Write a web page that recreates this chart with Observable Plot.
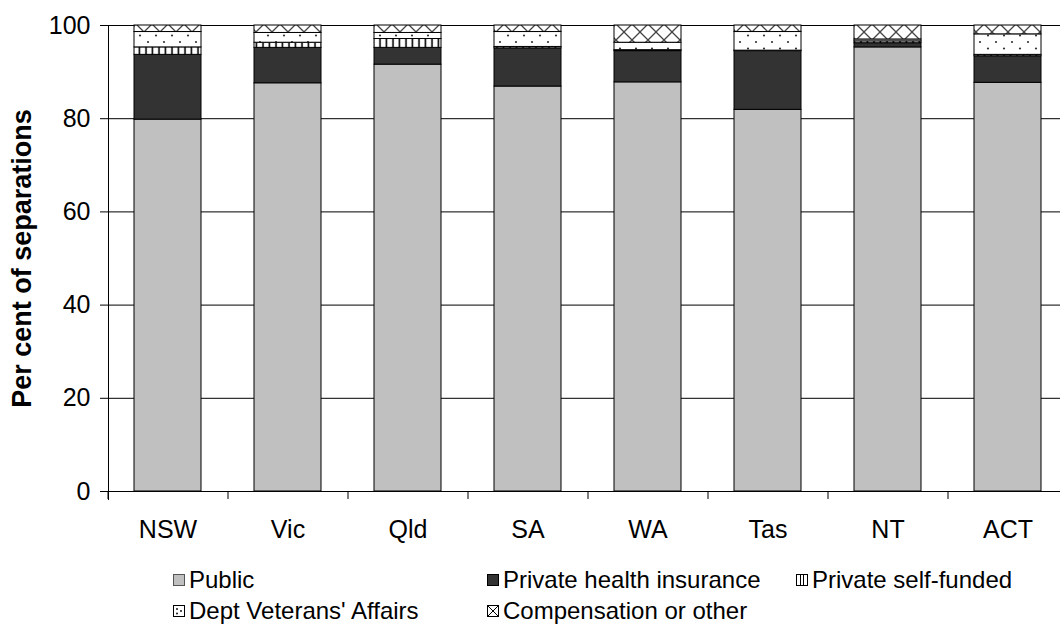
<!DOCTYPE html>
<html>
<head>
<meta charset="utf-8">
<script src="https://cdn.jsdelivr.net/npm/d3@7"></script>
<script src="https://cdn.jsdelivr.net/npm/@observablehq/plot@0.6"></script>
<style>
  html, body { margin: 0; padding: 0; background: #fff; }
  body { width: 1060px; height: 627px; overflow: hidden; font-family: "Liberation Sans", Arial, sans-serif; }
  #chart svg { display: block; overflow: visible; }
  #legend { position: relative; height: 72px; font-size: 24px; color: #000; }
  .item { position: absolute; display: flex; align-items: center; white-space: nowrap; line-height: 1; }
  .item svg { margin-right: 4px; }
</style>
</head>
<body>
<div id="chart"></div>
<div id="legend"></div>
<script>
const categories = ["NSW", "Vic", "Qld", "SA", "WA", "Tas", "NT", "ACT"];
const series = ["Public", "Private health insurance", "Private self-funded", "Dept Veterans' Affairs", "Compensation or other"];
const publicVals = [79.8, 87.6, 91.6, 86.9, 87.8, 81.9, 95.3, 87.7];
const phiVals    = [13.9, 7.6, 3.6, 8.2, 6.7, 12.6, 0.9, 5.7];
const selfVals   = [1.6, 1.1, 1.9, 0.3, 0.2, 0.1, 0.4, 0.3];
const dvaVals    = [3.3, 2.1, 1.3, 3.2, 1.6, 4.0, 0.4, 4.4];
const compVals   = [1.4, 1.6, 1.6, 1.4, 3.7, 1.4, 3.0, 1.9];
const yTicks = [0, 20, 40, 60, 80, 100];
const yTitle = "Per cent of separations";

const seriesValues = [publicVals, phiVals, selfVals, dvaVals, compVals];
const fills = ["#c0c0c0", "#333333", "url(#pSelf)", "url(#pDva)", "url(#pComp)"];

const rows = [];
series.forEach((s, si) => {
  categories.forEach((c, ci) => rows.push({state: c, series: s, value: seriesValues[si][ci]}));
});

const chart = Plot.plot({
  width: 1060,
  height: 555,
  marginLeft: 108,
  marginRight: 0,
  marginTop: 25,
  marginBottom: 64,
  style: {fontFamily: "'Liberation Sans', Arial, sans-serif", background: "#fff", color: "#000"},
  x: {domain: categories, range: [108, 1068], paddingInner: 0.44, paddingOuter: 0.22, label: null},
  y: {domain: [0, 100], label: null},
  color: {domain: series, range: fills},
  marks: [
    Plot.ruleY(yTicks.filter(d => d > 0), {stroke: "#000", strokeWidth: 1}),
    Plot.barY(rows, {x: "state", y: "value", fill: "series", stroke: "#000", strokeWidth: 1}),
    Plot.ruleY([0], {stroke: "#000", strokeWidth: 1}),
    Plot.frame({anchor: "left", stroke: "#000", insetBottom: -8}),
    Plot.axisY({ticks: yTicks, tickSize: 8, tickPadding: 10, fontSize: 25, stroke: "#000", label: null}),
    Plot.axisX({tickSize: 8, dx: -60, tickFormat: () => "", stroke: "#000", label: null}),
    Plot.axisX({tickSize: 0, tickPadding: 29, fontSize: 25, label: null}),
    Plot.text([yTitle], {frameAnchor: "left", textAnchor: "middle", rotate: -90, dx: -86, text: d => d, fontWeight: "bold", fontSize: 27, fill: "#000"})
  ]
});

// pattern definitions for the hatched series
const ns = "http://www.w3.org/2000/svg";
const defs = document.createElementNS(ns, "defs");
defs.innerHTML = `
  <pattern id="pSelf" patternUnits="userSpaceOnUse" width="6.5" height="10">
    <rect width="6.5" height="10" fill="#fff"/>
    <line x1="3" y1="0" x2="3" y2="10" stroke="#000" stroke-width="1.6"/>
  </pattern>
  <pattern id="pDva" patternUnits="userSpaceOnUse" width="16" height="13">
    <rect width="16" height="13" fill="#fff"/>
    <circle cx="4" cy="3" r="1.1" fill="#333"/>
    <circle cx="12" cy="9.5" r="1.1" fill="#333"/>
  </pattern>
  <pattern id="pComp" patternUnits="userSpaceOnUse" width="16" height="16">
    <rect width="16" height="16" fill="#fff"/>
    <path d="M0,0L16,16M16,0L0,16" stroke="#444" stroke-width="1.3"/>
  </pattern>`;
chart.insertBefore(defs, chart.firstChild);
document.getElementById("chart").appendChild(chart);

// legend
const swatches = [
  `<rect x="0.5" y="0.5" width="11" height="11" fill="#c0c0c0" stroke="#555"/>`,
  `<rect x="0.5" y="0.5" width="11" height="11" fill="#333" stroke="#000"/>`,
  `<rect x="0.5" y="0.5" width="11" height="11" fill="#fff" stroke="#000"/><line x1="4.5" y1="0" x2="4.5" y2="12" stroke="#000"/><line x1="7.5" y1="0" x2="7.5" y2="12" stroke="#000"/>`,
  `<rect x="0.5" y="0.5" width="11" height="11" fill="#fff" stroke="#000"/><circle cx="4" cy="4" r="0.9" fill="#000"/><circle cx="8" cy="6" r="0.9" fill="#000"/><circle cx="4" cy="8.5" r="0.9" fill="#000"/>`,
  `<rect x="0.5" y="0.5" width="11" height="11" fill="#fff" stroke="#000"/><path d="M1,1L11,11M11,1L1,11" stroke="#000"/>`
];
const legendPos = [[173, 25], [487, 25], [796, 25], [173, 56], [487, 56]];
const legend = document.getElementById("legend");
series.forEach((s, i) => {
  const div = document.createElement("div");
  div.className = "item";
  div.style.left = legendPos[i][0] + "px";
  div.style.top = (legendPos[i][1] - 12) + "px";
  div.innerHTML = `<svg width="12" height="12">${swatches[i]}</svg><span>${s}</span>`;
  legend.appendChild(div);
});
</script>
</body>
</html>
